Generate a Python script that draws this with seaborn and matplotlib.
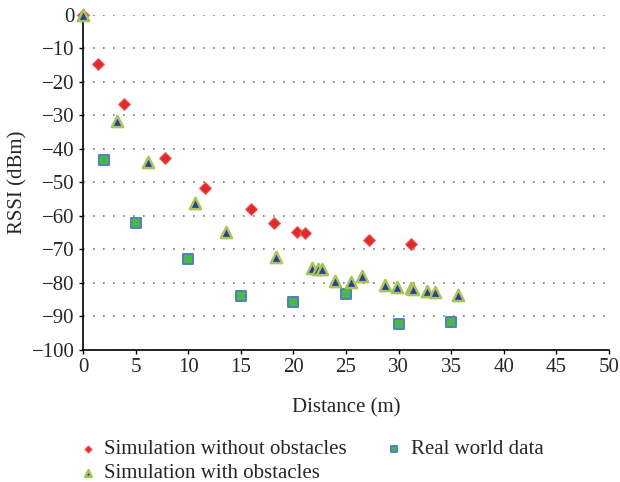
import matplotlib
matplotlib.use("Agg")
import matplotlib.pyplot as plt
import seaborn as sns
import pandas as pd
import numpy as np

# Data
no_obs_x = [0, 1.43, 3.9, 7.8, 11.6, 16.0, 18.2, 20.3, 21.1, 27.2, 31.2]
no_obs_y = [0, -14.6, -26.6, -42.7, -51.6, -57.8, -62.2, -64.8, -65.1, -67.2, -68.4]

obs_x = [0, 3.2, 6.15, 10.65, 13.6, 18.3, 21.8, 22.3, 22.75, 24.0, 25.5, 26.5,
         28.7, 29.9, 31.2, 31.4, 32.7, 33.5, 35.7]
obs_y = [0, -31.6, -44.0, -56.2, -64.9, -72.2, -75.6, -75.7, -75.9, -79.4, -79.6,
         -77.9, -80.7, -81.2, -81.5, -81.9, -82.3, -82.6, -83.5]

real_x = [2.0, 5.0, 10.0, 15.0, 20.0, 25.0, 30.0, 35.0]
real_y = [-43.3, -62.2, -72.9, -83.9, -85.8, -83.2, -92.2, -91.8]

labels = ["Simulation without obstacles", "Simulation with obstacles", "Real world data"]

sns.set_theme(style="white")
plt.rcParams['font.family'] = ['Liberation Serif', 'DejaVu Serif']
plt.rcParams['axes.unicode_minus'] = True

fig = plt.figure(figsize=(6.2, 4.82), dpi=100)
ax = fig.add_axes([0.134, 0.274, 0.848, 0.695])

df1 = pd.DataFrame({"x": no_obs_x, "y": no_obs_y})
df2 = pd.DataFrame({"x": obs_x, "y": obs_y})
df3 = pd.DataFrame({"x": real_x, "y": real_y})

sns.scatterplot(data=df3, x="x", y="y", ax=ax, marker="s", s=50,
                color="#4cb848", edgecolor="#4f81bd", linewidth=1.4,
                label=labels[2], zorder=3)
sns.scatterplot(data=df1, x="x", y="y", ax=ax, marker="D", s=36,
                color="#e02a2a", edgecolor="#ef5a5a", linewidth=0.8,
                label=labels[0], zorder=4)
sns.scatterplot(data=df2, x="x", y="y", ax=ax, marker="^", s=65,
                color="#2b3f9a", edgecolor="#a6c45a", linewidth=1.8,
                label=labels[1], zorder=5)

ax.set_xlim(0, 50)
ax.set_ylim(-100, 0)
ax.set_xticks(np.arange(0, 51, 5))
ax.set_yticks(np.arange(-100, 1, 10))
ax.set_xlabel("Distance (m)", fontsize=15, labelpad=15)
ax.set_ylabel("RSSI (dBm)", fontsize=15, labelpad=3)
ax.tick_params(axis="both", labelsize=15, direction="out", length=3, width=1,
               color="black", left=True, bottom=True, pad=3)

ax.yaxis.grid(True, linestyle=(0, (1, 5)), color="#777777", linewidth=1.2)
ax.xaxis.grid(False)
for side in ["top", "right"]:
    ax.spines[side].set_visible(False)
for side in ["left", "bottom"]:
    ax.spines[side].set_color("black")
    ax.spines[side].set_linewidth(1.2)
for coll in ax.collections:
    coll.set_clip_on(False)

handles, labs = ax.get_legend_handles_labels()
order = [labs.index(l) for l in labels]
ax.legend_.remove()
leg = fig.legend([handles[i] for i in order], [labs[i] for i in order],
                 loc="lower left", bbox_to_anchor=(0.118, -0.011), ncol=2,
                 frameon=False, fontsize=15, markerscale=0.6,
                 handletextpad=0.3, columnspacing=1.75, labelspacing=0.2,
                 handlelength=1.0, borderaxespad=0.0, borderpad=0.2)

fig.savefig("out.png", dpi=100)
